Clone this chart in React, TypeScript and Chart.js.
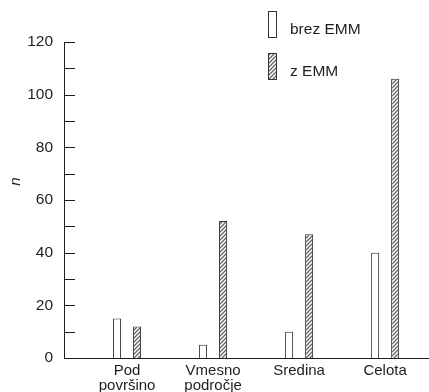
import React, { useEffect, useRef } from "react";
import { Chart, registerables } from "chart.js";

Chart.register(...registerables);

const categories: string[][] = [["Pod", "površino"], ["Vmesno", "področje"], ["Sredina"], ["Celota"]];
const seriesNames = ["brez EMM", "z EMM"];
const brezEMM = [15, 5, 10, 40];
const zEMM = [12, 52, 47, 106];
const yTicks = [0, 20, 40, 60, 80, 100, 120];
const yTitle = "n";

const FONT = "'Liberation Sans', Arial, sans-serif";
const INK = "#1e1e1e";

function makeHatch(): CanvasPattern | string {
  const c = document.createElement("canvas");
  c.width = 4;
  c.height = 4;
  const g = c.getContext("2d");
  if (!g) return "#ccc";
  g.fillStyle = "#fff";
  g.fillRect(0, 0, 4, 4);
  g.strokeStyle = "#666";
  g.lineWidth = 1.3;
  g.beginPath();
  g.moveTo(0, 4);
  g.lineTo(4, 0);
  g.moveTo(-1, 1);
  g.lineTo(1, -1);
  g.moveTo(3, 5);
  g.lineTo(5, 3);
  g.stroke();
  const p = g.createPattern(c, "repeat");
  return p || "#ccc";
}

export default function App() {
  const ref = useRef<HTMLCanvasElement | null>(null);

  useEffect(() => {
    if (!ref.current) return;
    const hatch = makeHatch();

    const extras = {
      id: "extras",
      afterDraw(chart: any) {
        const ctx = chart.ctx;
        const y = chart.scales.y;
        const area = chart.chartArea;
        ctx.save();
        // inward tick marks every 10
        ctx.strokeStyle = INK;
        ctx.lineWidth = 1;
        for (let v = 10; v <= 120; v += 10) {
          const py = Math.round(y.getPixelForValue(v)) + 0.5;
          ctx.beginPath();
          ctx.moveTo(area.left, py);
          ctx.lineTo(area.left + 11, py);
          ctx.stroke();
        }
        // y title
        ctx.fillStyle = INK;
        ctx.font = `italic 15px ${FONT}`;
        ctx.textAlign = "center";
        ctx.textBaseline = "middle";
        ctx.translate(16, y.getPixelForValue(67));
        ctx.rotate(-Math.PI / 2);
        ctx.fillText(yTitle, 0, 0);
        ctx.restore();

        // legend
        ctx.save();
        const fills = ["#fff", hatch];
        const boxTops = [11, 53];
        fills.forEach((f, i) => {
          ctx.fillStyle = f;
          ctx.fillRect(268, boxTops[i], 8, 26);
          ctx.strokeStyle = "#333";
          ctx.lineWidth = 1;
          ctx.strokeRect(268.5, boxTops[i] + 0.5, 8, 26);
          ctx.fillStyle = INK;
          ctx.font = `15.5px ${FONT}`;
          ctx.textAlign = "left";
          ctx.textBaseline = "middle";
          ctx.fillText(seriesNames[i], 290, boxTops[i] + 19);
        });
        ctx.restore();
      },
    };

    const chart = new Chart(ref.current, {
      type: "bar",
      data: {
        datasets: [
          {
            label: seriesNames[0],
            data: brezEMM.map((v, i) => ({ x: i, y: v })),
            backgroundColor: "#fff",
            borderColor: "#333",
            borderWidth: 1,
            categoryPercentage: 0.465,
            barPercentage: 0.4,
          },
          {
            label: seriesNames[1],
            data: zEMM.map((v, i) => ({ x: i, y: v })),
            backgroundColor: hatch as any,
            borderColor: "#333",
            borderWidth: 1,
            categoryPercentage: 0.465,
            barPercentage: 0.4,
          },
        ],
      },
      options: {
        animation: false,
        responsive: false,
        devicePixelRatio: 1,
        layout: { padding: { top: 42, left: 0, right: 0, bottom: 0 } },
        plugins: { legend: { display: false }, tooltip: { enabled: false } },
        scales: {
          x: {
            type: "linear",
            min: -0.733,
            max: 3.51,
            offset: false,
            grid: { display: false, drawTicks: false },
            border: { display: true, color: INK, width: 1 },
            afterBuildTicks: (scale: any) => {
              scale.ticks = categories.map((_, i) => ({ value: i }));
            },
            afterFit: (scale: any) => {
              scale.height = 34;
            },
            ticks: {
              autoSkip: false,
              maxRotation: 0,
              padding: 5,
              color: INK,
              font: { family: FONT, size: 15, lineHeight: 1 },
              callback: (v: any) => categories[Math.round(Number(v))] || "",
            },
          },
          y: {
            min: 0,
            max: 120,
            grid: { display: false, drawTicks: false },
            border: { display: true, color: INK, width: 1 },
            afterBuildTicks: (scale: any) => {
              scale.ticks = yTicks.map((v) => ({ value: v }));
            },
            afterFit: (scale: any) => {
              scale.width = 64;
            },
            ticks: {
              padding: 11,
              color: INK,
              font: { family: FONT, size: 15.5 },
            },
          },
        },
      },
      plugins: [extras],
    } as any);

    return () => chart.destroy();
  }, []);

  return (
    <canvas
      ref={ref}
      width={429}
      height={392}
      style={{ position: "fixed", left: 0, top: 0, width: 429, height: 392, display: "block", background: "#fff" }}
    />
  );
}
